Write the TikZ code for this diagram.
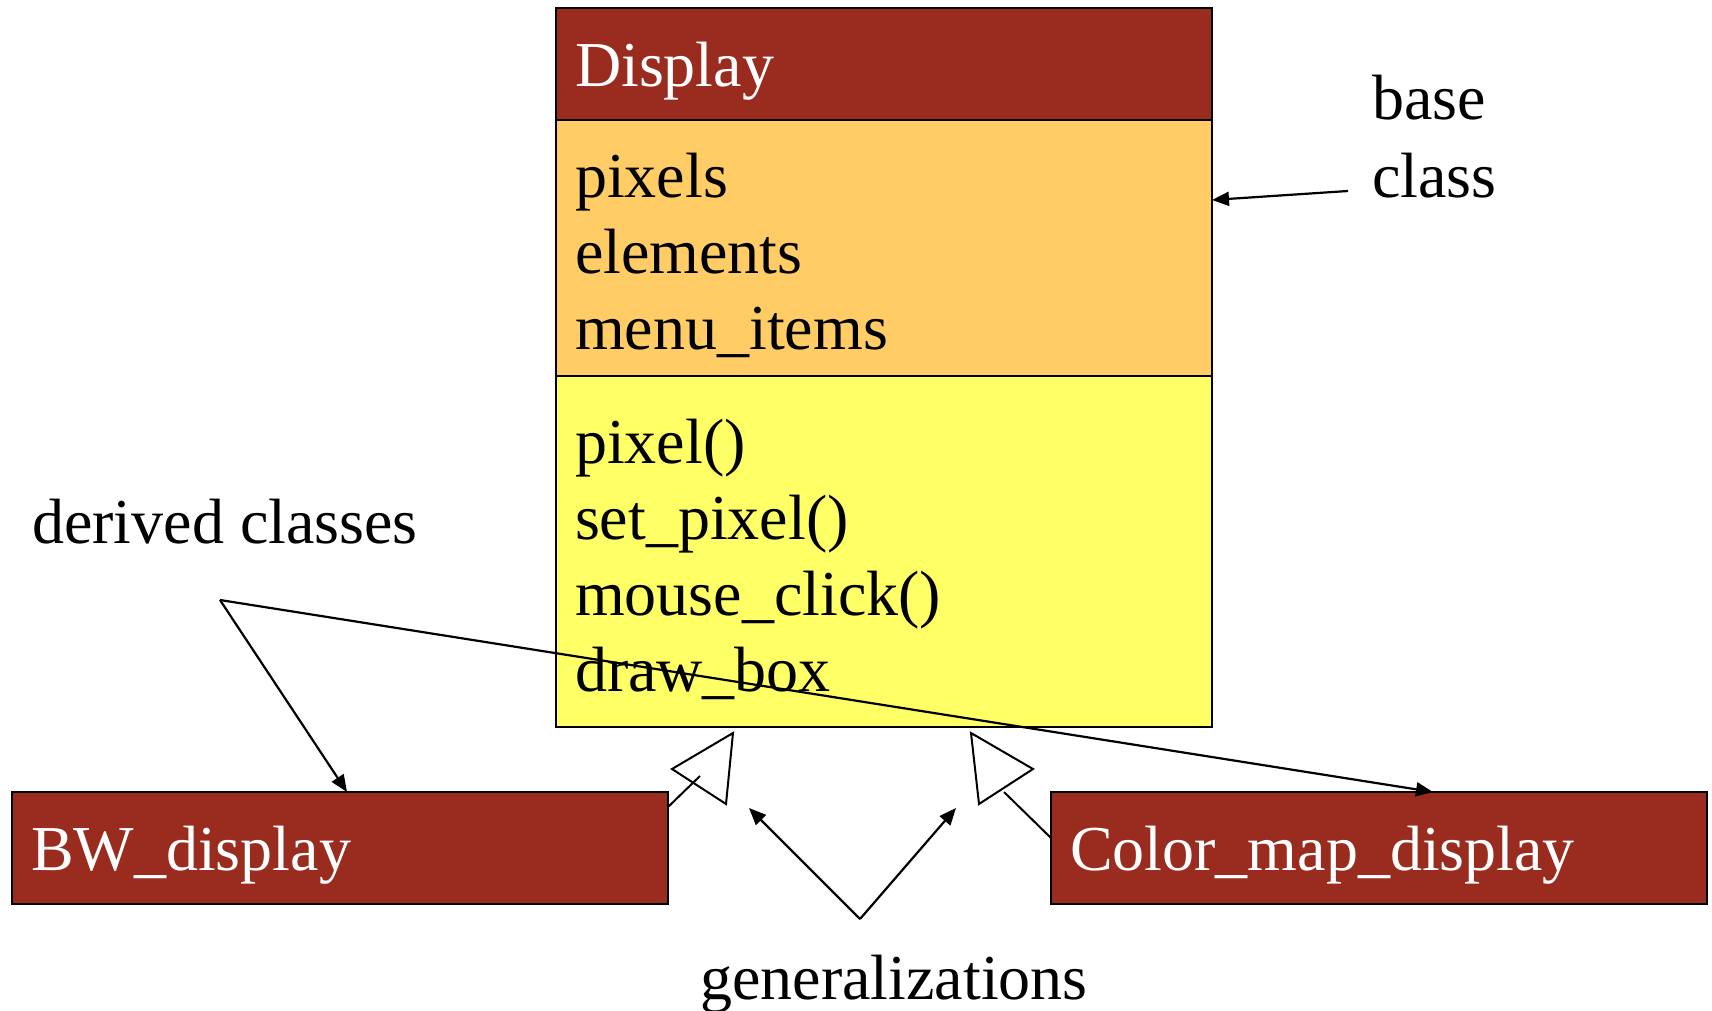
\documentclass[tikz,border=0pt]{standalone}
\usepackage{fontspec}
\setmainfont{Liberation Serif}
\usetikzlibrary{positioning,arrows.meta}
\definecolor{titlered}{RGB}{153,43,31}
\definecolor{attrorange}{RGB}{255,204,102}
\definecolor{opyellow}{RGB}{255,255,102}
\newcommand{\cellgap}{\par\vspace*{15pt}\nointerlineskip}

\begin{document}
\begin{tikzpicture}[x=1pt, y=-1pt, node distance=0pt, every node/.style={font=\fontsize{64}{76}\selectfont}, >=stealth]
    % 样式定义
    \tikzstyle{classtitle} = [rectangle, draw=black, line width=2pt, fill=titlered, text=white, minimum width=656pt, minimum height=112pt, text width=618pt, inner xsep=19pt, align=left, outer sep=0pt, execute at begin node=\cellgap]
    \tikzstyle{attrbox} = [classtitle, fill=attrorange, text=black, minimum height=256pt]
    \tikzstyle{opbox} = [classtitle, fill=opyellow, text=black, minimum height=351pt]
    \tikzstyle{label} = [inner sep=0pt]
    \tikzstyle{arrow} = [line width=2.2pt, -{Triangle[length=17pt,width=14pt]}]
    \tikzstyle{gen} = [line width=2pt, line join=miter]

    \useasboundingbox (0,0) rectangle (1712,1011);

    % 节点定义
    \node[classtitle, anchor=north west] (title) at (556,8) {Display};
    \node[attrbox, below=of title] (attrs) {pixels\\elements\\menu\_items};
    \node[opbox, below=of attrs] (ops) {pixel()\\set\_pixel()\\mouse\_click()\\draw\_box};

    \node[classtitle, anchor=north west] (bw) at (12,792) {BW\_display};
    \node[classtitle, anchor=north west] (cmap) at (1051,792) {Color\_map\_display};

    \node[label, anchor=base west] (baselbl) at (1372,120) {base};
    \node[label, anchor=base west] (classlbl) at (1372,197) {class};
    \node[label, anchor=base west] (derivlbl) at (32,543) {derived classes};
    \node[label, anchor=base] (genlbl) at (894,999) {generalizations};

    \coordinate (basetail) at (1348,191);
    \coordinate (dervpt) at (220,600);
    \coordinate (genpt) at (860,919);

    % 继承三角
    \draw[gen] (672,769) -- (733,733) -- (726,804) -- cycle;
    \draw[gen] (971,733) -- (1033,769) -- (979,804) -- cycle;
    \draw[gen] ([yshift=41pt]bw.east) -- (700,776);
    \draw[gen] ([yshift=10pt]cmap.west) -- (1004,792);

    % 箭头连接
    \draw[arrow] (basetail) -- ([yshift=48pt]attrs.east);
    \draw[arrow] (dervpt) -- ([xshift=7pt]bw.north);
    \draw[arrow] (dervpt) -- ([xshift=54pt]cmap.north);
    \draw[arrow] (genpt) -- (749,808);
    \draw[arrow] (genpt) -- (956,808);
\end{tikzpicture}
\end{document}
